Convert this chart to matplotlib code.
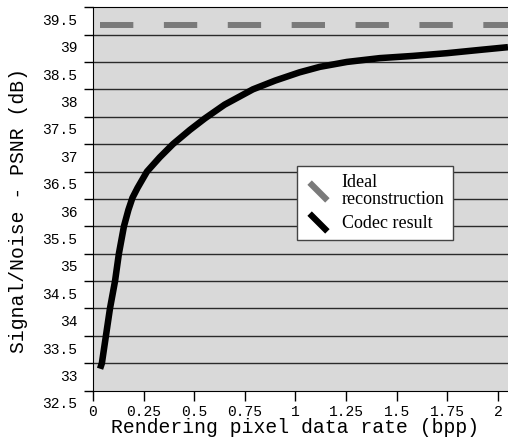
import numpy as np
import matplotlib.pyplot as plt
from matplotlib.lines import Line2D

# codec result curve
rate = [0.035, 0.044, 0.064, 0.084, 0.109, 0.128, 0.153, 0.175, 0.195, 0.22,
        0.245, 0.267, 0.33, 0.395, 0.479, 0.553, 0.65, 0.79, 0.9, 1.02,
        1.12, 1.254, 1.417, 1.58, 1.748, 1.911, 2.05]
psnr = [32.9, 33.0, 33.5, 34.0, 34.5, 35.0, 35.5, 35.8, 36.02, 36.2,
        36.36, 36.5, 36.76, 37.0, 37.26, 37.47, 37.72, 38.0, 38.16, 38.31,
        38.41, 38.5, 38.57, 38.61, 38.66, 38.72, 38.77]

# ideal reconstruction level
ideal_rate = [0.035, 2.05]
ideal_psnr = [39.17, 39.17]

xticks = [0, 0.25, 0.5, 0.75, 1, 1.25, 1.5, 1.75, 2]
xticklabels = ['0', '0.25', '0.5', '0.75', '1', '1.25', '1.5', '1.75', '2']
yticks = np.arange(32.5, 39.51, 0.5)
yticklabels = ['32.5', '33', '33.5', '34', '34.5', '35', '35.5', '36', '36.5',
               '37', '37.5', '38', '38.5', '39', '39.5']

plt.rcParams['lines.scale_dashes'] = False
mono = 'Liberation Mono'

fig = plt.figure(figsize=(5.08, 4.48), dpi=100)
ax = fig.add_axes([0.183, 0.128, 0.817, 0.856])
ax.set_facecolor('#d9d9d9')

for yv in yticks[1:-1]:
    ax.axhline(yv, color='#2a2a2a', lw=1, zorder=1)

ax.plot(ideal_rate, ideal_psnr, color='#7a7a7a', lw=4.3, linestyle=(0, (24, 22)),
        solid_capstyle='butt', zorder=2)
ax.plot(rate, psnr, color='black', lw=4.7, solid_capstyle='butt',
        solid_joinstyle='round', zorder=3)

ax.set_xlim(0, 2.05)
ax.set_ylim(32.5, 39.5)
ax.set_xticks(xticks)
ax.set_xticklabels(xticklabels, family=mono, fontsize=10.5)
ax.set_yticks(yticks)
ax.set_yticklabels([])
ax.tick_params(axis='x', length=7.5, width=1, pad=3)
ax.tick_params(axis='y', length=6.5, width=1)
ax.spines['right'].set_visible(False)

# the y labels sit half a step below their tick marks
for yv, lab in zip(yticks, yticklabels):
    ax.text(-0.038, yv - 0.25, lab, transform=ax.get_yaxis_transform(),
            ha='right', va='center', family=mono, fontsize=10.5, clip_on=False)

ax.set_xlabel('Rendering pixel data rate (bpp)', family=mono, fontsize=14.2)
ax.xaxis.set_label_coords(0.487, -0.072)
ax.set_ylabel('Signal/Noise - PSNR (dB)', family=mono, fontsize=14.2)
ax.yaxis.set_label_coords(-0.157, 0.47)

mk = [(-1, 0.6), (-0.6, 1), (1, -0.6), (0.6, -1), (-1, 0.6)]
handles = [Line2D([], [], ls='none', marker=mk, markersize=16, color='#7a7a7a', mew=0),
           Line2D([], [], ls='none', marker=mk, markersize=16, color='black', mew=0)]
leg = fig.legend(handles, ['Ideal\nreconstruction', 'Codec result'],
                 loc='upper left', bbox_to_anchor=(0.585, 0.629),
                 prop={'family': 'Liberation Serif', 'size': 13},
                 fancybox=False, framealpha=1, edgecolor='#444444',
                 handlelength=1.4, handletextpad=0.62, borderpad=0.45,
                 labelspacing=0.4, borderaxespad=0)
leg.get_frame().set_linewidth(1)
for t in leg.get_texts():
    t.set_linespacing(0.95)

fig.savefig('out.png', dpi=100)
